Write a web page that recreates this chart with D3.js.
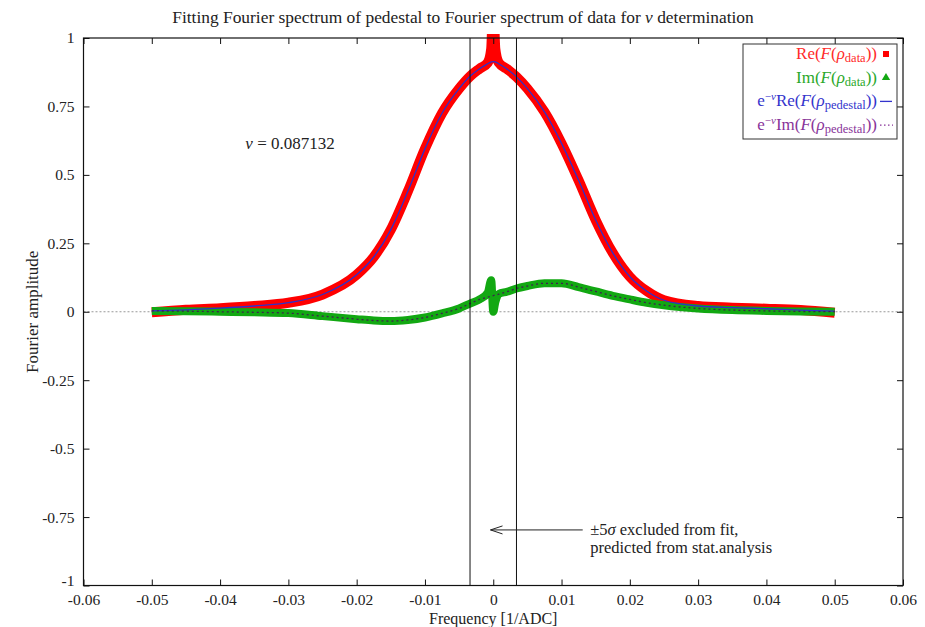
<!DOCTYPE html>
<html>
<head>
<meta charset="utf-8">
<script src="https://cdn.jsdelivr.net/npm/d3@7"></script>
<style>
  body { margin: 0; background: #fff; }
  svg text { font-family: "Liberation Serif", "DejaVu Serif", serif; fill: #222; }
</style>
</head>
<body>
<svg width="925" height="627"></svg>
<script>
// frequency grid [1/ADC], denser around 0 where the data has its spike
const freq = [-0.05, -0.045, -0.04, -0.035, -0.03, -0.025, -0.02, -0.0175, -0.015, -0.0125, -0.01, -0.0075, -0.005, -0.0034, -0.002, -0.0008, -0.0003, 0,
  0.0003, 0.0008, 0.002, 0.0034, 0.005, 0.0075, 0.01, 0.0125, 0.015, 0.0175, 0.02, 0.0225, 0.025, 0.03, 0.035, 0.04, 0.045, 0.05];

// Re(F(rho_data)) and Im(F(rho_data))
const reData = [-0.002, 0.007, 0.013, 0.021, 0.033, 0.063, 0.135, 0.20, 0.30, 0.44, 0.595, 0.725, 0.815, 0.86, 0.888, 0.91, 0.96, 1.14,
  0.96, 0.91, 0.887, 0.858, 0.815, 0.73, 0.615, 0.48, 0.335, 0.215, 0.128, 0.075, 0.042, 0.021, 0.015, 0.011, 0.006, -0.004];
const imData = [0.003, 0.002, 0.0, -0.002, -0.005, -0.016, -0.027, -0.032, -0.034, -0.030, -0.021, -0.006, 0.012, 0.030, 0.045, 0.070, 0.115, 0.0,
  0.035, 0.065, 0.073, 0.085, 0.094, 0.104, 0.104, 0.090, 0.074, 0.058, 0.045, 0.033, 0.024, 0.012, 0.006, 0.003, 0.001, 0.0];

// e^-nu Re(F(rho_pedestal)) and e^-nu Im(F(rho_pedestal))
const rePed = [0.003, 0.007, 0.013, 0.021, 0.033, 0.063, 0.135, 0.20, 0.30, 0.44, 0.595, 0.725, 0.815, 0.86, 0.888, 0.906, 0.913, 0.914,
  0.913, 0.906, 0.887, 0.858, 0.815, 0.73, 0.615, 0.48, 0.335, 0.215, 0.128, 0.075, 0.042, 0.021, 0.015, 0.011, 0.006, 0.002];
const imPed = [0.003, 0.002, 0.0, -0.002, -0.005, -0.016, -0.027, -0.032, -0.034, -0.030, -0.021, -0.006, 0.012, 0.030, 0.045, 0.053, 0.057, 0.059,
  0.061, 0.064, 0.073, 0.085, 0.094, 0.104, 0.104, 0.090, 0.074, 0.058, 0.045, 0.033, 0.024, 0.012, 0.006, 0.003, 0.001, 0.0];

const xTicks = [-0.06, -0.05, -0.04, -0.03, -0.02, -0.01, 0, 0.01, 0.02, 0.03, 0.04, 0.05, 0.06];
const yTicks = [-1, -0.75, -0.5, -0.25, 0, 0.25, 0.5, 0.75, 1];

const cut = 0.0034; // +-5 sigma window
const nu = 0.087132;

const svg = d3.select("svg");
const x = d3.scaleLinear().domain([-0.06, 0.06]).range([83.5, 903]);
const y = d3.scaleLinear().domain([-1, 1]).range([585.5, 38]);

// clip to plot area (a little headroom at the top, like gnuplot's points)
svg.append("clipPath").attr("id", "plot")
  .append("rect")
  .attr("x", x(-0.06)).attr("y", y(1) - 4)
  .attr("width", x(0.06) - x(-0.06)).attr("height", y(-1) - y(1) + 4);

// zero line
svg.append("line")
  .attr("x1", x(-0.06)).attr("x2", x(0.06))
  .attr("y1", y(0)).attr("y2", y(0))
  .attr("stroke", "#999").attr("stroke-dasharray", "2,2");

const line = (vals) => d3.line()
  .x((d, i) => x(freq[i]))
  .y(d => y(d))
  .curve(d3.curveMonotoneX)(vals);

const g = svg.append("g").attr("clip-path", "url(#plot)");

g.append("path").attr("d", line(reData))
  .attr("fill", "none").attr("stroke", "#ff0000").attr("stroke-width", 10)
  .attr("stroke-linejoin", "round");
g.append("path").attr("d", line(imData))
  .attr("fill", "none").attr("stroke", "#12a812").attr("stroke-width", 8)
  .attr("stroke-linejoin", "round");
g.append("path").attr("d", line(rePed))
  .attr("fill", "none").attr("stroke", "#3030c8").attr("stroke-width", 1.3);
g.append("path").attr("d", line(imPed))
  .attr("fill", "none").attr("stroke", "#402050").attr("stroke-width", 1.3)
  .attr("stroke-dasharray", "2,3");

// excluded window
[-cut, cut].forEach(c => {
  svg.append("line")
    .attr("x1", x(c)).attr("x2", x(c))
    .attr("y1", y(1)).attr("y2", y(-1))
    .attr("stroke", "#111").attr("stroke-width", 1);
});

// axes (inward ticks, gnuplot style)
const fmt = d => String(d);
svg.append("g").attr("transform", `translate(0,${y(-1)})`)
  .call(d3.axisBottom(x).tickValues(xTicks).tickFormat(fmt).tickSize(-6).tickPadding(8));
svg.append("g").attr("transform", `translate(0,${y(1)})`)
  .call(d3.axisTop(x).tickValues(xTicks).tickFormat("").tickSize(-6));
const yAxis = svg.append("g").attr("transform", `translate(${x(-0.06)},0)`)
  .call(d3.axisLeft(y).tickValues(yTicks).tickFormat(fmt).tickSize(-6).tickPadding(9));
svg.append("g").attr("transform", `translate(${x(0.06)},0)`)
  .call(d3.axisRight(y).tickValues(yTicks).tickFormat("").tickSize(-6));
svg.selectAll(".domain").remove();
svg.selectAll(".tick line").attr("stroke", "#111");
svg.selectAll(".tick text").style("font-size", "15.5px").attr("fill", "#222")
  .style("font-family", "Liberation Serif, serif");
// lift the bottom y label a little so it clears the first x label
yAxis.selectAll(".tick text").filter(d => d === -1).attr("y", -5);

svg.append("rect")
  .attr("x", x(-0.06)).attr("y", y(1))
  .attr("width", x(0.06) - x(-0.06)).attr("height", y(-1) - y(1))
  .attr("fill", "none").attr("stroke", "#111").attr("stroke-width", 1.2);

// titles
svg.append("text").attr("x", 463).attr("y", 23).attr("text-anchor", "middle")
  .style("font-size", "17.4px")
  .call(t => {
    t.append("tspan").text("Fitting Fourier spectrum of pedestal to Fourier spectrum of data for ");
    t.append("tspan").style("font-style", "italic").text("ν");
    t.append("tspan").text(" determination");
  });
svg.append("text").attr("x", x(0)).attr("y", 624).attr("text-anchor", "middle")
  .style("font-size", "16px").text("Frequency [1/ADC]");
svg.append("text").attr("transform", `translate(38,${y(0)}) rotate(-90)`)
  .attr("text-anchor", "middle").style("font-size", "17px").text("Fourier amplitude");

// nu label
svg.append("text").attr("x", x(-0.0363)).attr("y", y(0.6) + 1)
  .style("font-size", "17px")
  .call(t => {
    t.append("tspan").style("font-style", "italic").text("ν");
    t.append("tspan").text(" = " + nu);
  });

// arrow annotation
const ay = y(-0.797);
svg.append("line").attr("x1", x(0.0131)).attr("x2", x(-0.0004))
  .attr("y1", ay).attr("y2", ay).attr("stroke", "#222");
svg.append("path")
  .attr("d", `M${x(-0.0004) + 12},${ay - 4} L${x(-0.0004)},${ay} L${x(-0.0004) + 12},${ay + 4}`)
  .attr("fill", "none").attr("stroke", "#222");
svg.append("text").attr("x", x(0.0142)).attr("y", ay + 5).style("font-size", "16.5px")
  .call(t => {
    t.append("tspan").text("±5");
    t.append("tspan").style("font-style", "italic").text("σ");
    t.append("tspan").text(" excluded from fit,");
  });
svg.append("text").attr("x", x(0.0142)).attr("y", ay + 23).style("font-size", "16.5px")
  .text("predicted from stat.analysis");

// legend
const legend = svg.append("g");
legend.append("rect").attr("x", 743).attr("y", 44).attr("width", 154).attr("height", 95)
  .attr("fill", "#fff").attr("stroke", "#333").attr("stroke-width", 1);

const legendItems = [
  { color: "#ff2a2a", pre: false, part: "Re", sub: "data", sym: "square" },
  { color: "#2aa82a", pre: false, part: "Im", sub: "data", sym: "triangle" },
  { color: "#3333cc", pre: true, part: "Re", sub: "pedestal", sym: "line" },
  { color: "#883399", pre: true, part: "Im", sub: "pedestal", sym: "dots" }
];
const lx = 877;
legendItems.forEach((d, i) => {
  const ly = 59 + i * 23.7;
  const t = legend.append("text").attr("x", lx).attr("y", ly)
    .attr("text-anchor", "end").style("font-size", "17px").style("fill", d.color);
  if (d.pre) {
    t.append("tspan").text("e");
    t.append("tspan").attr("dy", -6).style("font-size", "11px").text("−");
    t.append("tspan").style("font-size", "11px").style("font-style", "italic").text("ν");
    t.append("tspan").attr("dy", 6).text(d.part + "(");
  } else {
    t.append("tspan").text(d.part + "(");
  }
  t.append("tspan").style("font-style", "italic").text("F");
  t.append("tspan").text("(");
  t.append("tspan").style("font-style", "italic").text("ρ");
  t.append("tspan").attr("dy", 3).style("font-size", "12.5px").text(d.sub);
  t.append("tspan").attr("dy", -3).text("))");

  const sx = 886, sy = ly - 5;
  if (d.sym === "square") {
    legend.append("rect").attr("x", sx - 3).attr("y", sy - 3).attr("width", 6).attr("height", 6).attr("fill", "#ff0000");
  } else if (d.sym === "triangle") {
    legend.append("path").attr("d", d3.symbol(d3.symbolTriangle, 30)()).attr("transform", `translate(${sx},${sy})`).attr("fill", "#12a812");
  } else if (d.sym === "line") {
    legend.append("line").attr("x1", sx - 6).attr("x2", sx + 6).attr("y1", sy).attr("y2", sy).attr("stroke", d.color).attr("stroke-width", 1.3);
  } else {
    legend.append("line").attr("x1", sx - 6).attr("x2", sx + 7).attr("y1", sy).attr("y2", sy).attr("stroke", d.color)
      .attr("stroke-width", 1.3).attr("stroke-dasharray", "1.5,2.5");
  }
});
</script>
</body>
</html>
